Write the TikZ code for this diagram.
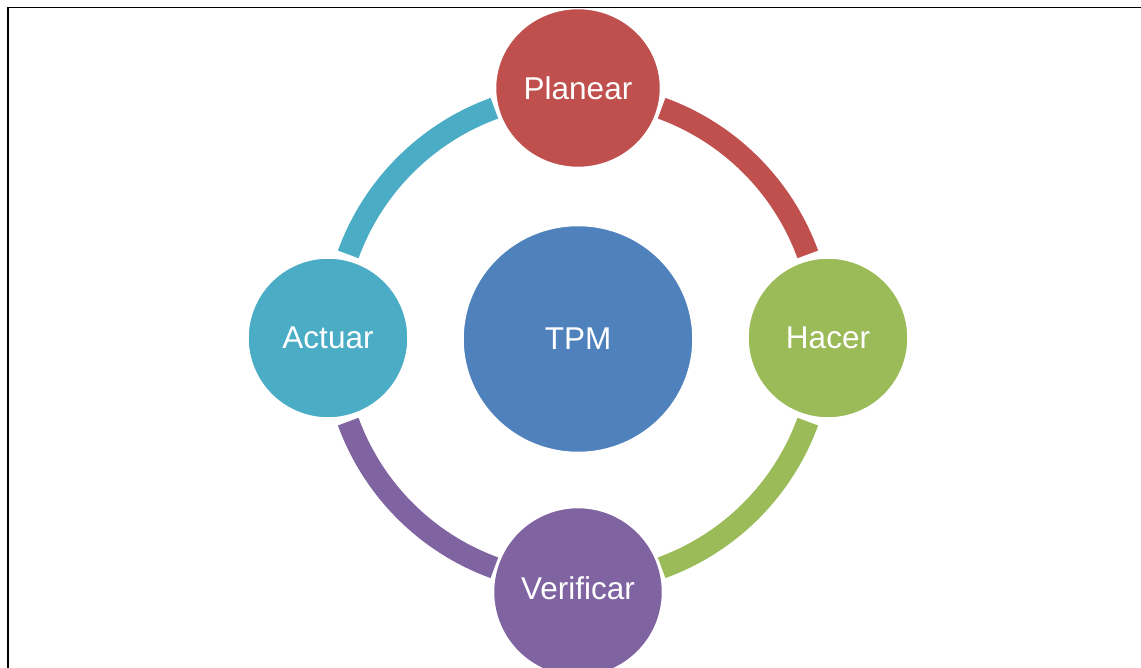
\documentclass[tikz,border=0pt]{standalone}
\usepackage{fontspec}
\setmainfont{Liberation Sans}
\usetikzlibrary{shapes.geometric}
\definecolor{cRed}{HTML}{C0504D}
\definecolor{cGreen}{HTML}{9BBB59}
\definecolor{cPurple}{HTML}{8064A2}
\definecolor{cCyan}{HTML}{4BACC6}
\definecolor{cBlue}{HTML}{4F81BD}
\tikzset{
  bubble/.style={ellipse, inner sep=0pt, draw=white, line width=2.5pt,
    text=white, font=\fontsize{31.5}{36}\selectfont},
  ringarc/.style={line width=22pt, line cap=butt}
}
\begin{document}
\begin{tikzpicture}[x=1pt,y=-1pt]
\useasboundingbox (0,0) rectangle (1141,668);
\fill[white] (0,0) rectangle (1141,668);
\coordinate (c) at (578,338);
% ring arcs
\draw[ringarc, cRed]    ([shift={(c)}]70:244.5pt) arc[start angle=70, end angle=20, radius=244.5pt];
\draw[ringarc, cGreen]  ([shift={(c)}]-20:244.5pt) arc[start angle=-20, end angle=-70, radius=244.5pt];
\draw[ringarc, cPurple] ([shift={(c)}]-110:244.5pt) arc[start angle=-110, end angle=-160, radius=244.5pt];
\draw[ringarc, cCyan]   ([shift={(c)}]160:244.5pt) arc[start angle=160, end angle=110, radius=244.5pt];
% nodes
\node[bubble, fill=cBlue, minimum width=231pt, minimum height=228pt] (tpm) at (578,339) {TPM};
\node[bubble, fill=cRed, minimum width=166pt, minimum height=160pt] (planear) at (578,88) {Planear};
\node[bubble, fill=cGreen, minimum width=161pt, minimum height=161pt] (hacer) at (828,338) {Hacer};
\node[bubble, fill=cPurple, minimum width=170pt, minimum height=170pt] (verificar) at (578,592) {};
\node[text=white, font=\fontsize{31.5}{36}\selectfont] (vlabel) at (578,588) {Verificar};
\node[bubble, fill=cCyan, minimum width=161pt, minimum height=161pt] (actuar) at (328,338) {Actuar};
% frame
\draw[line width=1.8pt] (7.8,668) -- (7.8,7.5) -- (1141,7.5);
\end{tikzpicture}
\end{document}
